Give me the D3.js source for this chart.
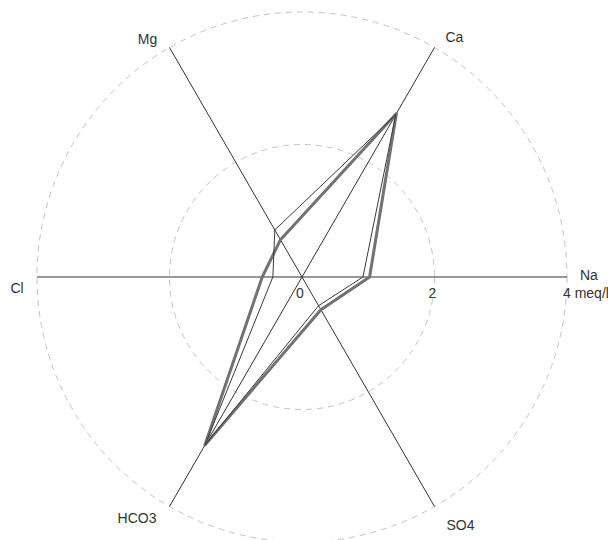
<!DOCTYPE html>
<html>
<head>
<meta charset="utf-8">
<script src="https://cdn.jsdelivr.net/npm/d3@7"></script>
<style>
  body { margin: 0; background: #fff; }
  text { font-family: "Liberation Sans", Arial, sans-serif; font-size: 14px; fill: #333; }
</style>
</head>
<body>
<div class="a"></div>
<script>
// ions, in the order they go round the plot (Na at 0°, counter-clockwise)
const ions = ["Na", "Ca", "Mg", "Cl", "HCO3", "SO4"];
// two samples, meq/l
const sampleThin = [0.92, 2.83, 0.82, 0.44, 2.93, 0.50];
const sampleThick = [1.02, 2.85, 0.65, 0.60, 2.93, 0.57];
const rings = [2, 4];
const tickLabels = ["0", "2", "4 meq/l"];

const width = 608, height = 540;
const cx = 302, cy = 277;

const svg = d3.select(".a")
    .append("svg")
    .attr("width", width)
    .attr("height", height);

const g = svg.append("g").attr("transform", `translate(${cx},${cy})`);

// radius scale
const r = d3.scaleLinear().domain([0, 4]).range([0, 265]);
// angle of each ion axis
const ang = d3.scalePoint().domain(ions).range([0, 300]);

function pt(ion, v) {
    const a = ang(ion) * Math.PI / 180;
    return [r(v) * Math.cos(a), -r(v) * Math.sin(a)];
}

// dashed rings
g.selectAll(".ring")
    .data(rings)
    .join("circle")
    .attr("r", d => r(d))
    .attr("fill", "none")
    .attr("stroke", "#c4c4c4")
    .attr("stroke-dasharray", "6,5");

// axes from center out to 4 meq/l
g.selectAll(".axis")
    .data(ions)
    .join("line")
    .attr("x1", 0).attr("y1", 0)
    .attr("x2", d => pt(d, 4)[0])
    .attr("y2", d => pt(d, 4)[1])
    .attr("stroke", "#333")
    .attr("stroke-width", 1);

// sample polygons
const line = d3.line().curve(d3.curveLinearClosed);

g.append("path")
    .attr("d", line(ions.map((d, i) => pt(d, sampleThick[i]))))
    .attr("fill", "none")
    .attr("stroke", "#727272")
    .attr("stroke-width", 3)
    .attr("stroke-linejoin", "round");

g.append("path")
    .attr("d", line(ions.map((d, i) => pt(d, sampleThin[i]))))
    .attr("fill", "none")
    .attr("stroke", "#3a3a3a")
    .attr("stroke-width", 1);

// ion labels
const labelPos = {
    Na:   { dx: 13, dy: 3, anchor: "start" },
    Ca:   { dx: 11, dy: -6, anchor: "start" },
    Mg:   { dx: -22, dy: -4, anchor: "middle" },
    Cl:   { dx: -20, dy: 16, anchor: "middle" },
    HCO3: { dx: -13, dy: 17, anchor: "end" },
    SO4:  { dx: 12, dy: 24, anchor: "start" }
};

g.selectAll(".ion")
    .data(ions)
    .join("text")
    .attr("x", d => pt(d, 4)[0] + labelPos[d].dx)
    .attr("y", d => pt(d, 4)[1] + labelPos[d].dy)
    .attr("text-anchor", d => labelPos[d].anchor)
    .text(d => d);

// scale labels along Na axis
g.selectAll(".tick")
    .data([0, 2, 4])
    .join("text")
    .attr("x", (d, i) => r(d) + (i === 2 ? -4 : -2))
    .attr("y", 21)
    .attr("text-anchor", (d, i) => i === 2 ? "start" : "middle")
    .text((d, i) => tickLabels[i]);
</script>
</body>
</html>
